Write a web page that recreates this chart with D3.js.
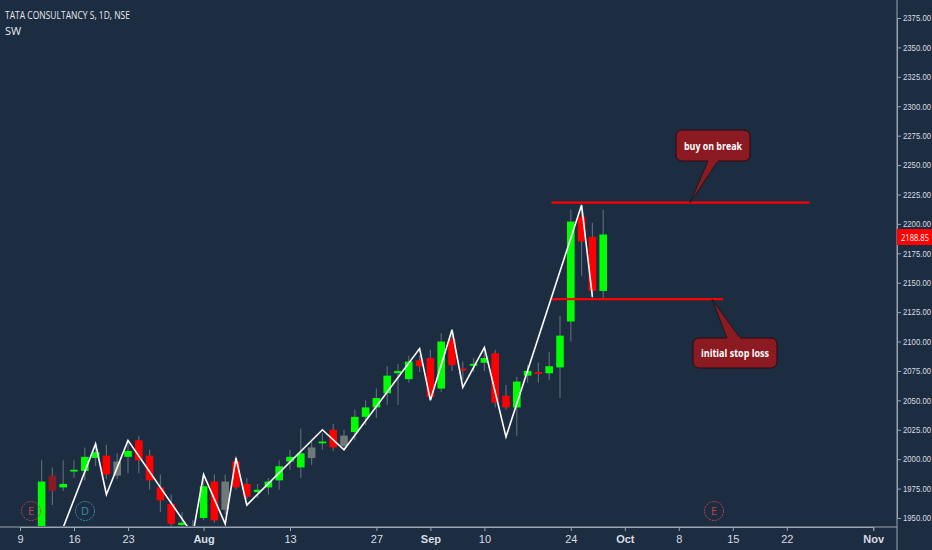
<!DOCTYPE html>
<html><head><meta charset="utf-8">
<script src="https://cdn.jsdelivr.net/npm/d3@7"></script>
<style>body{margin:0;background:#1c2c41}svg{display:block}</style>
</head><body><svg id="c" width="932" height="550"></svg>
<script>
// candles: [index, open, high, low, close, colour kind]
const candleIndex = [2,3,4,5,6,7,8,9,10,11,12,13,14,15,16,17,18,19,20,21,22,23,24,25,26,27,28,29,30,31,32,33,34,35,36,37,38,39,40,41,42,43,44,45,46,47,48,49,50,51,52,53,54];
const opens  = [1931,1986,1976,1990,1990,2001,2003,1986,2002,2016,2003,1976,1962,1944,1938,1950,1981,1957,1998,1979,1972,1976,1982,1998,1993,2001,2014,2025,2011,2023,2036,2044,2056,2073,2068,2084,2086,2060,2102,2077,2080,2082,2090,2054,2044,2071,2074,2073,2078,2117,2206,2189,2143];
const highs  = [1999,1993,1999,1999,2010,2012,2012,2005,2016,2020,2008,1987,1970,1955,1948,1986,1987,1987,2003,1984,1979,1984,1999,2008,2026,2015,2022,2030,2025,2042,2050,2060,2079,2081,2088,2088,2093,2107,2107,2083,2086,2093,2093,2063,2070,2080,2082,2091,2122,2212,2212,2201,2212];
const lows   = [1927,1961,1973,1984,1982,1994,1983,1983,1988,1988,1974,1955,1940,1938,1930,1948,1946,1953,1974,1966,1967,1970,1974,1991,1984,1995,2008,2007,2008,2016,2029,2035,2046,2046,2065,2074,2050,2057,2075,2067,2074,2075,2044,2042,2020,2065,2065,2067,2052,2100,2156,2137,2137];
const closes = [1981,1973,1979,1991,2002,2006,1987,1998,2007,1999,1982,1965,1945,1946,1942,1977,1948,1981,1976,1968,1974,1981,1994,2002,2005,2010,2015,2010,2020,2036,2044,2052,2071,2075,2083,2079,2053,2100,2080,2076,2081,2086,2048,2044,2066,2075,2073,2079,2105,2202,2185,2143,2191];
const kinds  = ["g","dr","g","g","g","g","r","n","g","r","r","r","r","g","g","g","r","n","r","r","g","g","g","g","g","n","g","r","n","g","g","g","g","g","g","r","r","g","r","r","g","g","r","r","g","g","r","g","g","g","r","r","g"];
const zigIndex = [4,7,8,10,16,17,19,20,21,28,30,37,38,40,41,43,45,52,53];
const zigPrice = [1942,2013,1970,2016,1936,1987,1945,2001,1961,2025,2008,2094,2050,2110,2061,2095,2019,2216,2138];
const tickIndex = [0,5,10,17,25,33,38,43,51,56,61,66,71,79];
const tickLabels = ["9","16","23","Aug","13","27","Sep","10","24","Oct","8","15","22","Nov"];
const priceTicks = d3.range(1950, 2376, 25);
const lastPrice = 2188.85;
const levels = [{p:2218, i0:49.2, i1:73.1},{p:2136, i0:49.2, i1:65.1}];

const svg = d3.select("#c");
const font = "'Open Sans', 'DejaVu Sans', sans-serif";
const x = d3.scaleLinear().domain([0, 79]).range([20, 873.2]);
const y = d3.scaleLinear().domain([1950, 2375]).range([518, 18]);
const colors = {g:"#00ff00", r:"#ff0000", dr:"#8b1a22", n:"#6f7a76"};

svg.append("clipPath").attr("id","plot").append("rect").attr("x",0).attr("y",0).attr("width",897).attr("height",526);
const g = svg.append("g").attr("clip-path","url(#plot)");

const data = candleIndex.map((d,k)=>({i:d,o:opens[k],h:highs[k],l:lows[k],c:closes[k],k:kinds[k]}));
g.selectAll(".w").data(data).enter().append("line")
 .attr("x1",d=>x(d.i)).attr("x2",d=>x(d.i)).attr("y1",d=>y(d.h)).attr("y2",d=>y(d.l))
 .attr("stroke","#5d6875").attr("stroke-width",1.2);
g.selectAll(".b").data(data).enter().append("rect")
 .attr("x",d=>x(d.i)-3.8).attr("width",7.6)
 .attr("y",d=>y(Math.max(d.o,d.c))).attr("height",d=>Math.max(1.8,Math.abs(y(d.o)-y(d.c))))
 .attr("fill",d=>colors[d.k]);

levels.forEach(l=>g.append("line").attr("x1",x(l.i0)).attr("x2",x(l.i1)).attr("y1",y(l.p)).attr("y2",y(l.p))
  .attr("stroke","#ff0000").attr("stroke-width",2.2));

g.append("path").datum(zigIndex.map((d,k)=>[d,zigPrice[k]]))
 .attr("d",d3.line().x(d=>x(d[0])).y(d=>y(d[1])))
 .attr("fill","none").attr("stroke","#ffffff").attr("stroke-width",1.6);

// event markers
[[31,511,"E","#c2424f"],[85,511,"D","#3d8fa8"],[714,511,"E","#c2424f"]].forEach(m=>{
 g.append("circle").attr("cx",m[0]).attr("cy",m[1]).attr("r",9.5).attr("fill","none").attr("stroke",m[3]).attr("stroke-dasharray","2,1").attr("stroke-width",1);
 g.append("text").attr("x",m[0]).attr("y",m[1]+4).attr("text-anchor","middle").attr("fill",m[3]).attr("font-family",font).attr("font-size",11).text(m[2]);
});

// axes
const ax = svg.append("g").attr("transform","translate(0,527)").attr("font-family",font)
 .call(d3.axisBottom(x).tickValues(tickIndex).tickFormat((d,k)=>tickLabels[k]).tickSize(4).tickPadding(4));
ax.select(".domain").attr("stroke","#9aa4b1");
ax.selectAll("line").attr("stroke","#9aa4b1");
ax.selectAll("text").attr("fill","#d8dde4").attr("font-size",11).attr("font-weight",d=>isNaN(+tickLabels[tickIndex.indexOf(d)])?"bold":"normal");
svg.append("line").attr("x1",0).attr("x2",897).attr("y1",527).attr("y2",527).attr("stroke","#9aa4b1");

const ay = svg.append("g").attr("transform","translate(897,0)").attr("font-family",font)
 .call(d3.axisRight(y).tickValues(priceTicks).tickFormat(d3.format(".2f")).tickSize(4).tickPadding(2));
ay.select(".domain").attr("stroke","#9aa4b1");
ay.selectAll("line").attr("stroke","#9aa4b1");
ay.selectAll("text").attr("fill","#d8dde4").attr("font-size",8.6).attr("textLength",28).attr("lengthAdjust","spacingAndGlyphs");
svg.append("line").attr("x1",897).attr("x2",897).attr("y1",0).attr("y2",550).attr("stroke","#9aa4b1");
svg.append("rect").attr("x",897).attr("y",y(lastPrice)-8).attr("width",35).attr("height",16).attr("fill","#ff0000");
svg.append("text").attr("x",901).attr("y",y(lastPrice)+4).attr("fill","#fff").attr("font-family",font).attr("font-size",8.6).attr("textLength",28).attr("lengthAdjust","spacingAndGlyphs").text(lastPrice.toFixed(2));

// title
svg.append("text").attr("x",5).attr("y",19).attr("fill","#e6e9ee").attr("font-family",font).attr("font-size",11.5).attr("textLength",125).attr("lengthAdjust","spacingAndGlyphs").text("TATA CONSULTANCY S, 1D, NSE");
svg.append("text").attr("x",5).attr("y",35).attr("fill","#e6e9ee").attr("font-family",font).attr("font-size",11).text("SW");

// callouts
function callout(bx,by,bw,bh,ptr,tip,label){
 svg.append("path").attr("d",`M${ptr[0]},${ptr[1]} L${tip[0]},${tip[1]} L${ptr[2]},${ptr[3]} Z`).attr("fill","#8b1a22").attr("stroke","#1a1a1a").attr("stroke-width",1);
 svg.append("rect").attr("x",bx).attr("y",by).attr("width",bw).attr("height",bh).attr("rx",6).attr("fill","#8b1a22").attr("stroke","#2a0a0a").attr("stroke-width",1);
 svg.append("path").attr("d",`M${ptr[0]},${ptr[1]} L${ptr[2]},${ptr[3]}`).attr("stroke","#8b1a22").attr("stroke-width",2.5);
 svg.append("text").attr("x",bx+bw/2).attr("y",by+bh/2+4).attr("text-anchor","middle").attr("fill","#fff").attr("font-family",font).attr("font-weight","bold").attr("font-size",11).attr("textLength",bw-16).attr("lengthAdjust","spacingAndGlyphs").text(label);
}
callout(676,130,74,31,[708,161,718,161],[690,y(levels[0].p)],"buy on break");
callout(693,338,84,30,[727,338,740,338],[712,y(levels[1].p)],"initial stop loss");
</script></body></html>
